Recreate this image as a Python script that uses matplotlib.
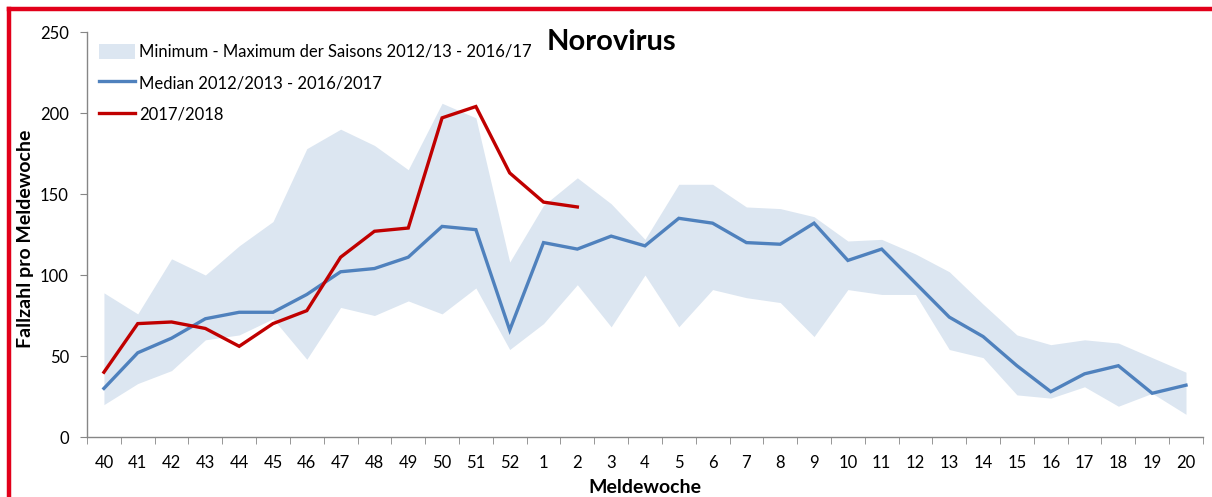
import matplotlib.pyplot as plt
from matplotlib.lines import Line2D
from matplotlib.patches import Patch


WEEKS = [str(w) for w in range(40, 53)] + [str(w) for w in range(1, 21)]

BAND_MAX = [
    89, 76, 110, 100, 118, 133, 178, 190, 180, 165, 206, 197, 108,
    143, 160, 144, 122, 156, 156, 142, 141, 136, 121, 122, 113, 102,
    82, 63, 57, 60, 58, 49, 40,
]

BAND_MIN = [
    20, 33, 41, 60, 63, 73, 48, 80, 75, 84, 76, 92, 54,
    70, 94, 68, 100, 68, 91, 86, 83, 62, 91, 88, 88, 54,
    49, 26, 24, 31, 19, 27, 14,
]

MEDIAN = [
    30, 52, 61, 73, 77, 77, 88, 102, 104, 111, 130, 128, 66,
    120, 116, 124, 118, 135, 132, 120, 119, 132, 109, 116, 95, 74,
    62, 44, 28, 39, 44, 27, 32,
]

SEASON_2017 = [40, 70, 71, 67, 56, 70, 78, 111, 127, 129, 197, 204, 163, 145, 142]

Y_TICKS = [0, 50, 100, 150, 200, 250]

LABEL_BAND = "Minimum - Maximum der Saisons 2012/13 - 2016/17"
LABEL_MEDIAN = "Median 2012/2013 - 2016/2017"
LABEL_SEASON = "2017/2018"

BAND_COLOR = "#DCE6F1"
MEDIAN_COLOR = "#4F81BD"
SEASON_COLOR = "#C00000"
AXIS_COLOR = "#868686"
FRAME_COLOR = "#E2001A"


def main():
    plt.rcParams["font.family"] = ["Lato", "DejaVu Sans"]

    fig = plt.figure(figsize=(12.12, 4.97), dpi=100)
    ax = fig.add_axes([0.0718, 0.1207, 0.9207, 0.8149])

    x = list(range(len(WEEKS)))

    ax.fill_between(x, BAND_MIN, BAND_MAX, color=BAND_COLOR, linewidth=0)
    ax.plot(x, MEDIAN, color=MEDIAN_COLOR, linewidth=2.4,
            solid_joinstyle="miter")
    ax.plot(x[:len(SEASON_2017)], SEASON_2017, color=SEASON_COLOR,
            linewidth=2.4, solid_joinstyle="miter")

    ax.set_xlim(-0.5, len(WEEKS) - 0.5)
    ax.set_ylim(0, 250)

    ax.set_xticks(x)
    ax.set_xticklabels(WEEKS, fontsize=12)
    ax.set_xticks([i - 0.5 for i in range(len(WEEKS) + 1)], minor=True)
    ax.tick_params(axis="x", which="major", length=0, pad=13)
    ax.tick_params(axis="x", which="minor", length=5, color=AXIS_COLOR,
                   direction="out")

    ax.set_yticks(Y_TICKS)
    ax.tick_params(axis="y", length=5, color=AXIS_COLOR, labelsize=12,
                   pad=8)

    for side in ["top", "right"]:
        ax.spines[side].set_visible(False)
    for side in ["left", "bottom"]:
        ax.spines[side].set_color(AXIS_COLOR)
        ax.spines[side].set_linewidth(1)

    ax.set_xlabel("Meldewoche", fontsize=14, fontweight="bold")
    ax.xaxis.set_label_coords(0.5, -0.104)
    ax.set_ylabel("Fallzahl pro Meldewoche", fontsize=14,
                  fontweight="bold")
    ax.yaxis.set_label_coords(-0.0475, 0.49)

    ax.text(0.470, 0.975, "Norovirus", transform=ax.transAxes,
            fontsize=21, fontweight="bold", ha="center", va="center")

    handles = [
        Patch(facecolor=BAND_COLOR, edgecolor="none"),
        Line2D([0], [0], color=MEDIAN_COLOR, linewidth=2.4),
        Line2D([0], [0], color=SEASON_COLOR, linewidth=2.4),
    ]
    ax.legend(
        handles,
        [LABEL_BAND, LABEL_MEDIAN, LABEL_SEASON],
        loc="upper left",
        bbox_to_anchor=(0.0, 1.0),
        frameon=False,
        fontsize=12,
        handlelength=2.2,
        handleheight=1.0,
        handletextpad=0.2,
        labelspacing=0.9,
        borderaxespad=0.3,
    )

    # red frame on top and left edge
    top = 1 - 9 / 497
    left = 9 / 1212
    fig.add_artist(Line2D([left, 1], [top, top], transform=fig.transFigure,
                          color=FRAME_COLOR, linewidth=3.2))
    fig.add_artist(Line2D([left, left], [0, top], transform=fig.transFigure,
                          color=FRAME_COLOR, linewidth=3.2))

    fig.savefig("out.png", dpi=100)
    plt.close(fig)


if __name__ == "__main__":
    main()
